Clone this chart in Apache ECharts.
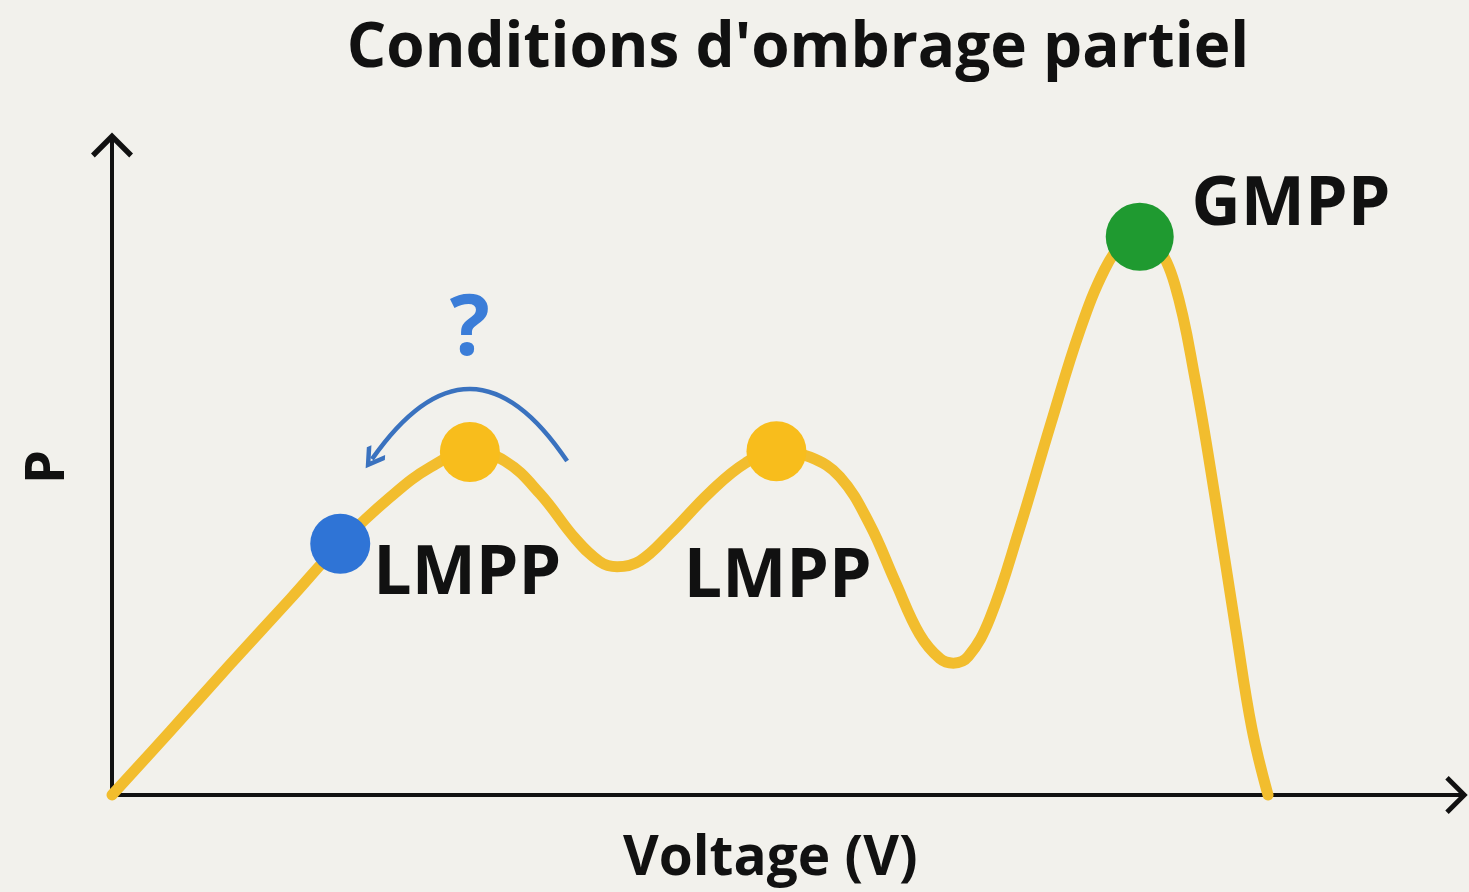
<!DOCTYPE html>
<html>
<head>
<meta charset="utf-8">
<script src="https://cdn.jsdelivr.net/npm/echarts@6/dist/echarts.min.js"></script>
<style>
  html, body { margin: 0; padding: 0; background: #f2f1ec; }
  #chart { width: 1469px; height: 892px; }
</style>
</head>
<body>
<div id="chart"></div>
<script>
// P–V curve under partial shading (arbitrary units)
const voltage = [0, 4.3, 8.7, 13.2, 16.9, 20.6, 23.6, 26.5, 29.1, 31.7, 34.3, 36.1, 37.4, 39.1, 41.3, 44.3, 46.9, 49.2, 51.7, 53.9, 56.1, 58.0, 59.8, 61.3, 62.3, 63.4, 65.0, 67.2, 69.5, 71.7, 73.5, 75.0, 76.1, 77.2, 78.7, 80.2, 81.7, 83.2, 84.4, 85.6];
const power   = [0, 9.7, 19.8, 29.9, 38.3, 45.4, 50.0, 52.4, 50.9, 45.9, 39.1, 35.6, 34.8, 35.7, 39.8, 46.2, 50.6, 52.4, 51.5, 48.5, 41.3, 32.5, 24.5, 20.8, 20.1, 21.1, 26.9, 40.6, 56.5, 71.0, 80.1, 84.7, 85.9, 84.4, 77.8, 63.4, 45.1, 25.4, 10.2, 0];

const operatingPoint = [[16.9, 38.3]];
const localPeaks = [[26.5, 52.3], [49.2, 52.4]];
const globalPeak = [[76.1, 85.1]];

const labelTexts = ['LMPP', 'LMPP', 'GMPP'];
const labelV = [26.3, 49.3, 87.3];
const labelP = [33.6, 33.1, 89.8];

const questionMark = [[26.5, 70.7]];
const searchArc = [[33.7, 50.9], [19.25, 51.2]];

const chevron = 'path://M50,0 L100,50 L91,59 L50,18 L9,59 L0,50 Z';
const FONT = '"Open Sans", "Noto Sans", sans-serif';

const chart = echarts.init(document.getElementById('chart'), null, { renderer: 'canvas' });

chart.setOption({
  backgroundColor: '#f2f1ec',
  animation: false,
  title: {
    text: "Conditions d'ombrage partiel",
    left: 793,
    top: 13,
    textAlign: 'center',
    textStyle: { fontFamily: FONT, fontWeight: 'bold', fontSize: 62, color: '#111' }
  },
  grid: { left: 112, right: 6.5, top: 139, bottom: 95 },
  xAxis: {
    type: 'value', min: 0, max: 100,
    name: 'Voltage (V)', nameLocation: 'middle', nameGap: 37,
    nameTextStyle: { fontFamily: FONT, fontWeight: 'bold', fontSize: 55, color: '#111', padding: [0, 34, 0, 0] },
    axisLine: { show: true, symbol: ['none', chevron], symbolSize: [38, 23], symbolOffset: [0, -6],
      lineStyle: { color: '#111', width: 4 } },
    axisTick: { show: false }, axisLabel: { show: false }, splitLine: { show: false }
  },
  yAxis: {
    type: 'value', min: 0, max: 100,
    name: 'P', nameLocation: 'middle', nameGap: 36,
    nameTextStyle: { fontFamily: FONT, fontWeight: 'bold', fontSize: 54, color: '#111' },
    axisLine: { show: true, symbol: ['none', chevron], symbolSize: [42, 26], symbolOffset: [0, -6],
      lineStyle: { color: '#111', width: 4 } },
    axisTick: { show: false }, axisLabel: { show: false }, splitLine: { show: false }
  },
  series: [
    {
      type: 'line', name: 'P-V', clip: false, showSymbol: false, symbol: 'none',
      smooth: 0.4,
      data: voltage.map((v, i) => [v, power[i]]),
      lineStyle: { color: '#f2bd2e', width: 11, cap: 'round', join: 'round' },
      z: 2
    },
    {
      type: 'lines', coordinateSystem: 'cartesian2d', clip: false,
      symbol: ['none', 'path://M50,0 L100,50 L88,62 L50,24 L12,62 L0,50 Z'],
      symbolSize: [36, 22],
      lineStyle: { color: '#3a72bf', width: 4.5, opacity: 1, curveness: -0.73 },
      data: [{ coords: searchArc }],
      z: 3
    },
    {
      type: 'scatter', clip: false, symbolSize: 60,
      itemStyle: { color: '#f8bd1c', opacity: 1 },
      data: localPeaks, z: 4
    },
    {
      type: 'scatter', clip: false, symbolSize: 60,
      itemStyle: { color: '#2f74d6', opacity: 1 },
      data: operatingPoint, z: 4
    },
    {
      type: 'scatter', clip: false, symbolSize: 68,
      itemStyle: { color: '#1f9a30', opacity: 1 },
      data: globalPeak, z: 4
    },
    {
      type: 'scatter', clip: false, symbolSize: 0,
      itemStyle: { opacity: 1 },
      label: { show: true, position: 'inside', fontFamily: FONT, fontWeight: 'bold', fontSize: 68, color: '#111',
        opacity: 1, formatter: p => p.data.name },
      data: labelTexts.map((t, i) => ({ name: t, value: [labelV[i], labelP[i]] })),
      z: 5
    },
    {
      type: 'scatter', clip: false, symbolSize: 0,
      itemStyle: { opacity: 1 },
      label: { show: true, position: 'inside', fontFamily: FONT, fontWeight: 'bold', fontSize: 84, color: '#3b7dd8',
        opacity: 1, formatter: '?' },
      data: questionMark,
      z: 5
    }
  ]
});
</script>
</body>
</html>
